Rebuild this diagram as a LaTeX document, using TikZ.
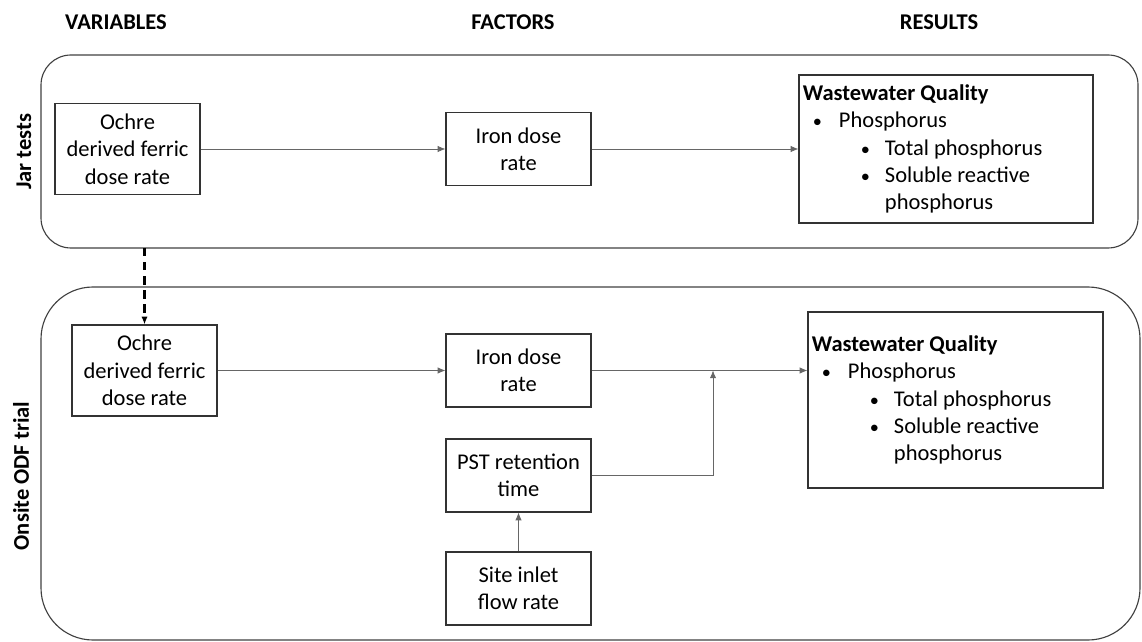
\documentclass[tikz,border=0pt]{standalone}
\usepackage{fontspec}
\setmainfont{Carlito}
\usetikzlibrary{arrows.meta,positioning}

% bullet list shared by both result boxes
\newcommand{\wqdot}{{\fontsize{13}{15}\selectfont\textbullet}}
\newcommand{\wqlist}{\textbf{Wastewater Quality}\\
  \hspace*{0.25cm}\makebox[0.65cm][l]{\wqdot}Phosphorus\\
  \hspace*{1.45cm}\makebox[0.6cm][l]{\wqdot}Total phosphorus\\
  \hspace*{1.45cm}\makebox[0.6cm][l]{\wqdot}Soluble reactive\\
  \hspace*{2.05cm}phosphorus}

\begin{document}
\begin{tikzpicture}[
    x=0.025cm, y=-0.025cm,
    >={Latex[length=5.5pt,width=4.5pt]},
    font=\fontsize{16}{19.5}\selectfont,
    arr/.style={->, draw=black!60, line width=0.5pt},
    darr/.style={->, dashed, dash pattern=on 6pt off 4pt, line width=1.6pt},
    frame/.style={draw=black!75, line width=0.8pt},
    vbox/.style={draw=black!80, line width=0.8pt, align=center, inner sep=2pt,
                 minimum width=3.625cm, minimum height=2.275cm},
    fbox/.style={draw=black!80, line width=0.8pt, align=center, inner sep=2pt,
                 minimum width=3.625cm, minimum height=1.825cm},
    rbox/.style={draw=black!80, line width=0.8pt, align=flush left, inner sep=0.1cm},
    head/.style={font=\fontsize{16}{19.5}\selectfont\bfseries},
    side/.style={font=\fontsize{16}{19.5}\selectfont\bfseries, rotate=90}
]
\useasboundingbox (0,0) rectangle (1142,642);

% ---- column headers ----
\node[head] (hvar) at (116,22) {VARIABLES};
\node[head] (hfac) at (513,22) {FACTORS};
\node[head] (hres) at (939,22) {RESULTS};

% ===== JAR TESTS =====
\draw[frame, rounded corners=0.75cm] (41,55) rectangle (1138,248);
\node[side] (ljar) at (24,152) {Jar tests};

\node[vbox] (jochre) at (127.5,149) {Ochre\\derived ferric\\dose rate};
\node[fbox] (jiron)  at (518.5,149) {Iron dose\\rate};
\node[rbox, text width=7.15cm, minimum height=3.7cm] (jwq) at (946,149) {\wqlist};

\draw[arr] (jochre) -- (jiron);
\draw[arr] (jiron) -- (jwq);

% ===== ONSITE ODF TRIAL =====
\draw[frame, rounded corners=1.3cm] (41,287) rectangle (1140,640);
\node[side] (lodf) at (21,476) {Onsite ODF trial};

\node[vbox] (oochre) at (144.5,370.5) {Ochre\\derived ferric\\dose rate};
\node[fbox] (oiron)  at (518.5,370.5) {Iron dose\\rate};
\node[fbox] (opst)   at (518.5,475.5) {PST retention\\time};
\node[fbox] (osite)  at (518.5,588.5) {Site inlet\\flow rate};
\node[rbox, text width=7.175cm, minimum height=4.4cm] (owq) at (955.5,400) {\wqlist};

% dashed link between the two trials
\coordinate (jbot) at (144.5,248);
\draw[darr] (jbot) -- (oochre.north);

\draw[arr] (oochre) -- (oiron);
\draw[arr] (oiron.east) -- (oiron.east -| owq.west);
\coordinate (merge) at (713,370.5);
\draw[arr] (opst.east) -| (merge);
\draw[arr] (osite) -- (opst);

\end{tikzpicture}
\end{document}
